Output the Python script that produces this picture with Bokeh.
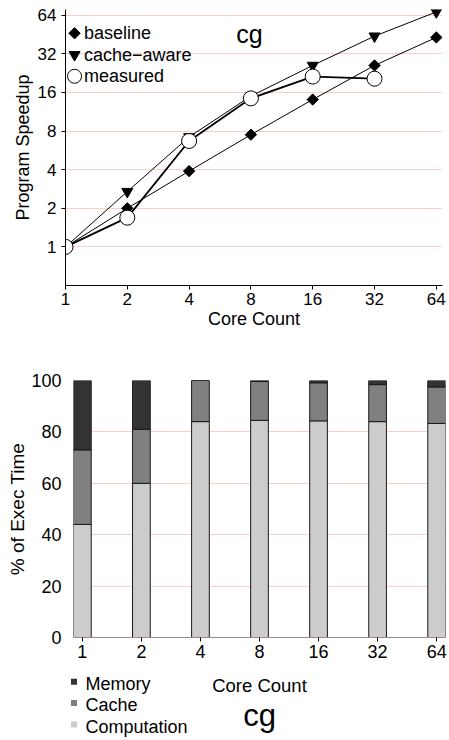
import math
from bokeh.plotting import figure
from bokeh.models import (Range1d, FixedTicker, Label, LinearScale,
                          ColumnDataSource, BasicTickFormatter)
from bokeh.embed import file_html
from bokeh.resources import INLINE

# ---------------- data ----------------
cores = [1, 2, 4, 8, 16, 32, 64]
core_labels = ["1", "2", "4", "8", "16", "32", "64"]

baseline = [1.0, 2.0, 3.9, 7.5, 14.1, 26.0, 43.0]
cache_aware = [1.0, 2.7, 7.2, 15.0, 26.0, 44.0, 68.0]
measured_cores = [1, 2, 4, 8, 16, 32]
measured = [1.0, 1.69, 6.7, 14.4, 21.3, 20.5]
series_names = ["baseline", "cache\u2212aware", "measured"]

speedup_ticks = [1, 2, 4, 8, 16, 32, 64]
speedup_tick_labels = ["1", "2", "4", "8", "16", "32", "64"]

computation = [44.0, 60.0, 84.0, 84.5, 84.3, 84.0, 83.3]
cache = [29.0, 21.0, 16.0, 15.1, 14.8, 14.4, 14.2]
memory = [27.0, 19.0, 0.0, 0.4, 0.9, 1.6, 2.5]
parts = ["Computation", "Cache", "Memory"]
legend_order = ["Memory", "Cache", "Computation"]
pct_ticks = [0, 20, 40, 60, 80, 100]
pct_tick_labels = ["0", "20", "40", "60", "80", "100"]

title_text = "cg"

# ---------------- style ----------------
FONT = "Liberation Sans"
GRID = "#ffcccc"
PART_COLORS = {"Memory": "#333333", "Cache": "#808080", "Computation": "#cccccc"}
W = 449


def base_axis(ax):
    ax.major_label_text_font = FONT
    ax.major_label_text_font_size = "17px"
    ax.major_label_text_color = "black"
    ax.axis_label_text_font = FONT
    ax.axis_label_text_font_size = "18px"
    ax.axis_label_text_font_style = "normal"
    ax.axis_label_text_color = "black"
    ax.axis_line_color = "black"
    ax.major_tick_line_color = "black"
    ax.major_tick_in = 0
    ax.major_tick_out = 4
    ax.minor_tick_line_color = None


# ---------------- top chart ----------------
top = figure(width=W, height=345, x_axis_type="log", y_axis_type="log",
             x_range=Range1d(1, 2 ** 6.1), y_range=Range1d(0.5, 2 ** 6.15),
             output_backend="svg", toolbar_location=None, title=None,
             min_border_left=65, min_border_right=7, min_border_top=9,
             min_border_bottom=60)
top.outline_line_color = None
top.background_fill_color = "white"

top.xaxis.ticker = FixedTicker(ticks=cores)
top.xaxis.formatter = BasicTickFormatter()
top.xaxis.major_label_overrides = {c: l for c, l in zip(cores, core_labels)}
top.yaxis.ticker = FixedTicker(ticks=speedup_ticks)
top.yaxis.formatter = BasicTickFormatter()
top.yaxis.major_label_overrides = {t: l for t, l in zip(speedup_ticks, speedup_tick_labels)}
for ax in (top.xaxis[0], top.yaxis[0]):
    base_axis(ax)
top.xaxis.axis_label = "Core Count"
top.yaxis.axis_label = "Program Speedup"
top.xaxis.major_label_standoff = 3
top.xaxis.axis_label_standoff = 1
top.yaxis.major_label_standoff = 5
top.yaxis.axis_label_standoff = 2
top.xgrid.grid_line_color = None
top.ygrid.grid_line_color = GRID

top.line(cores, baseline, line_color="black", line_width=1)
top.scatter(cores, baseline, marker="square", angle=math.pi / 4, size=8,
            fill_color="black", line_color="black")
top.line(cores, cache_aware, line_color="black", line_width=1)
top.scatter(cores, cache_aware, marker="inverted_triangle", size=11,
            fill_color="black", line_color="black")
top.line(measured_cores, measured, line_color="black", line_width=1.8)
top.scatter(measured_cores, measured, marker="circle", size=15,
            fill_color="white", line_color="black", line_width=1)

# legend / title in frame-fraction coordinates
top.extra_x_ranges = {"u": Range1d(0, 1)}
top.extra_y_ranges = {"u": Range1d(0, 1)}
top.extra_x_scales = {"u": LinearScale()}
top.extra_y_scales = {"u": LinearScale()}

LEG_MX, LEG_TX = 0.024, 0.049
LEG_Y0, LEG_DY = 0.914, 0.078
markers = [("square", math.pi / 4, 8, "black"),
           ("inverted_triangle", 0, 11, "black"),
           ("circle", 0, 14, "white")]
for i, (name, (mk, ang, sz, fc)) in enumerate(zip(series_names, markers)):
    yy = LEG_Y0 - i * LEG_DY
    top.scatter([LEG_MX], [yy], marker=mk, angle=ang, size=sz, fill_color=fc,
                line_color="black", x_range_name="u", y_range_name="u")
    top.add_layout(Label(x=LEG_TX, y=yy, x_range_name="u", y_range_name="u",
                         text=name, text_font=FONT, text_font_size="18px",
                         text_baseline="middle", text_color="black"))
top.add_layout(Label(x=0.488, y=0.911, x_range_name="u", y_range_name="u",
                     text=title_text, text_font=FONT, text_font_size="25px",
                     text_align="center", text_baseline="alphabetic",
                     text_color="black"))

# ---------------- bottom chart ----------------
xs = list(range(len(core_labels)))
src = ColumnDataSource(dict(x=xs, Computation=computation, Cache=cache,
                            Memory=memory))

bot = figure(width=W, height=329, x_range=Range1d(-0.15, 6.15),
             y_range=Range1d(0, 100), output_backend="svg", title=None,
             toolbar_location=None, min_border_left=73, min_border_right=4,
             min_border_top=35, min_border_bottom=37)
bot.outline_line_color = None
bot.background_fill_color = "white"

bot.xaxis.ticker = FixedTicker(ticks=xs)
bot.xaxis.major_label_overrides = {x: l for x, l in zip(xs, core_labels)}
bot.yaxis.ticker = FixedTicker(ticks=pct_ticks)
bot.yaxis.major_label_overrides = {t: l for t, l in zip(pct_ticks, pct_tick_labels)}
for ax in (bot.xaxis[0], bot.yaxis[0]):
    base_axis(ax)
bot.yaxis.axis_label = "% of Exec Time"
bot.xaxis.axis_line_color = "#a08888"
bot.xaxis.major_label_standoff = 3
bot.yaxis.axis_line_color = None
bot.yaxis.major_tick_line_color = None
bot.yaxis.major_tick_out = 0
bot.yaxis.major_label_standoff = 12
bot.yaxis.axis_label_standoff = 0
bot.yaxis.major_label_text_font_size = "18px"
bot.xaxis.major_label_text_font_size = "18px"
bot.yaxis.axis_label_text_font_size = "19px"
bot.xgrid.grid_line_color = None
bot.ygrid.grid_line_color = GRID

bot.vbar_stack(parts, x="x", width=0.3, source=src,
               fill_color=[PART_COLORS[p] for p in parts],
               line_color="#1a1a1a", line_width=1)

# ---------------- footer: x label, legend, title ----------------
FH = 66
foot = figure(width=W, height=FH, x_range=Range1d(0, W), y_range=Range1d(FH, 0),
              x_axis_type=None, y_axis_type=None, title=None,
              output_backend="svg", toolbar_location=None,
              min_border_left=0, min_border_right=0, min_border_top=0,
              min_border_bottom=0)
foot.grid.visible = False
foot.outline_line_color = None
foot.background_fill_color = "white"

foot.add_layout(Label(x=259, y=10.5, text="Core Count", text_font=FONT,
                      text_font_size="18.5px", text_align="center",
                      text_baseline="alphabetic", text_color="black"))
foot.add_layout(Label(x=259, y=40.5, text=title_text, text_font=FONT,
                      text_font_size="31px", text_align="center",
                      text_baseline="alphabetic", text_color="black"))
LEG_SX, LEG_LX, LEG_BY0, LEG_BDY = 73.5, 85, 9.5, 21.3
for i, name in enumerate(legend_order):
    by = LEG_BY0 + i * LEG_BDY
    foot.scatter([LEG_SX], [by - 2.2], marker="square", size=6,
                 fill_color=PART_COLORS[name], line_color=None)
    foot.add_layout(Label(x=LEG_LX, y=by, text=name, text_font=FONT,
                          text_font_size="18px", text_baseline="alphabetic",
                          text_color="black"))

open("out.html", "w").write(file_html([top, bot, foot], INLINE))
